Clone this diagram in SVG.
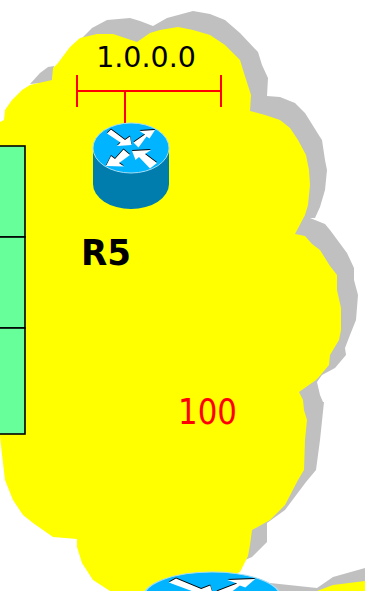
<svg xmlns="http://www.w3.org/2000/svg" width="365" height="591" viewBox="0 0 365 591">
<style>
.y{fill:#ffff00}.g{fill:#c0c0c0}
.t{font-family:"DejaVu Sans",sans-serif}
.cell{fill:#66ff99;stroke:#000;stroke-width:1.6}
.red{stroke:#ff0000;stroke-width:2;fill:none}
</style>
<defs>
<path id="arrows" d="M107,133.5L111,129.5L125,140L130,136.5L131.5,145L117,146L120.5,142.5ZM133.5,142.5L145,134.5L139.5,131L155,130L149.5,138.5L146.5,136.5L138.5,147.5ZM123.5,149.5L130,155L119,163L124,166.5L106,166L111,156L115,159ZM132,151L151,150L145,154L157,163L150,168.5L139,157L135.5,160Z"/>
<g id="router">
<path d="M93,148V184A38,25 0 0 0 169,184V148Z" fill="#007cad"/>
<ellipse cx="131" cy="148" rx="38" ry="25" fill="#00b4ff" stroke="#a6dcf2" stroke-width="1"/>
<use href="#arrows" fill="#000" y="-1"/>
<use href="#arrows" fill="#fff"/>
</g>
</defs>
<g id="cloud-shadow">
<path class="g" d="M30,84L40,73L48,67L54,66L52,82Z"/>
<path class="g" d="M82,38L92,28L107,20L130,18L140,21L153,26L167,18L193,11L210,14L225,20L240,33L258,52L262,65L268,78L267,96L280,97L295,103L305,113L320,137L322,140L325,160L327,170L325,190L320,207L315,218L310,218L325,224L330,230L347,253L354,268L354,280L358,295L356,320L350,335L345,348L346,355L335,368L322,375L317,382L320,395L323,402L324,402L320,440L316,470L306,482L285,510L267,523L267,542L252,557L245,560L240,570L200,400Z"/>
<path class="g" d="M270,583L317,588L333,577L365,568V591H270Z"/>
</g>
<g id="cloud">
<path class="y" d="M0,122L4,120L5,110L12,100L22,90L30,85L52,80L53,68L58,63L70,47L80,38L97,34L113,34L137,42L150,33L160,30L178,27L193,30L210,35L225,45L240,60L243,70L251,95L250,111L265,115L280,120L290,128L298,140L306,155L309,170L310,185L308,205L305,215L295,234L305,236L312,244L320,250L330,266L337,275L337,290L341,308L341,330L339,340L330,355L329,365L318,378L316,380L299,392L303,400L304,410L307,420L305,440L304,470L298,480L285,505L270,520L252,530L250,545L248,556L240,572L200,591H110L93,580L82,563L77,547L77,539L53,537L33,523L23,515L13,500L5,480L0,437Z"/>
<path class="y" d="M317,591L333,585L365,581V591Z"/>
</g>
<g id="table">
<rect class="cell" x="-5" y="146" width="30" height="91"/>
<rect class="cell" x="-5" y="237" width="30" height="91"/>
<rect class="cell" x="-5" y="328" width="30" height="106"/>
</g>
<g id="connectors">
<path class="red" d="M77,75V107M221,75V107M77,91H221M125,91V123"/>
</g>
<g id="R5"><use href="#router"/></g>
<g id="router-bottom"><use href="#router" transform="translate(212,597) scale(1.8,1) translate(-131,-148)"/></g>
<text class="t" x="146" y="67" font-size="28.5" text-anchor="middle">1.0.0.0</text>
<text class="t" x="81" y="265" font-size="36" font-weight="bold" textLength="50" lengthAdjust="spacingAndGlyphs">R5</text>
<text class="t" x="178" y="424" font-size="35" fill="#ff0000" textLength="59" lengthAdjust="spacingAndGlyphs">100</text>
</svg>
